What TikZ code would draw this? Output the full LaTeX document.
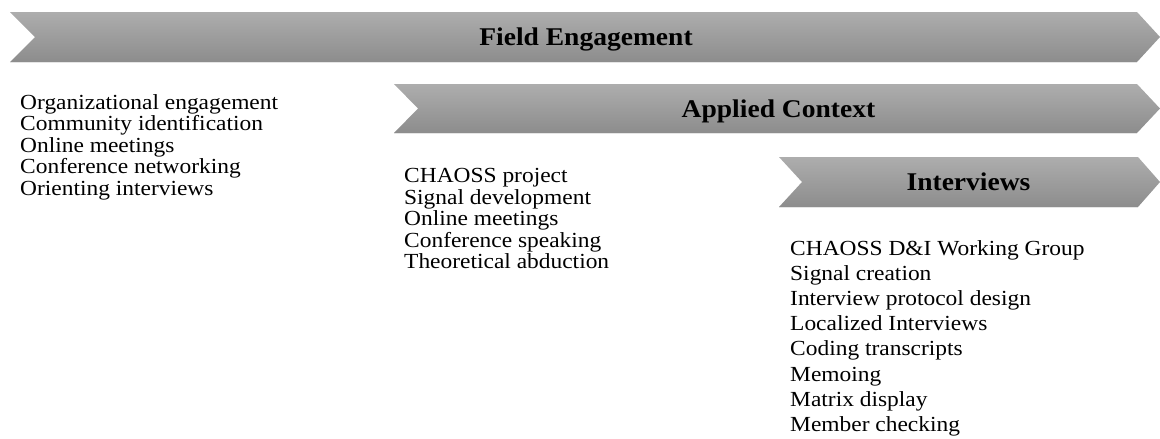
\documentclass[tikz,border=0pt]{standalone}
\usepackage{fontspec}
\setmainfont{Liberation Serif}[FakeStretch=1.09]
\newfontfamily\titlefont{Liberation Serif}[FakeStretch=1.08]
\begin{document}
\begin{tikzpicture}[x=1pt,y=-1pt,
  band/.style={top color=black!32,bottom color=black!45,draw=none},
  edge/.style={draw=black!10,line width=1pt},
  title/.style={font=\titlefont\fontsize{25.5}{28}\selectfont\bfseries,inner sep=0pt,anchor=base},
  item/.style={font=\fontsize{21.5}{24}\selectfont,anchor=base west,inner sep=0pt}]
\useasboundingbox (0,0) rectangle (1160,439);
% Field Engagement band
\path[band] (10,12) -- (1137,12) -- (1160,37) -- (1137,62) -- (10,62) -- (35,37) -- cycle;
\draw[edge] (10,62.5) -- (1137,62.5);
\node[title] (t1) at (586,45.5) {Field Engagement};
% Applied Context band
\path[band] (394,84) -- (1137,84) -- (1160,108.5) -- (1137,133) -- (394,133) -- (418,108.5) -- cycle;
\draw[edge] (394,133.5) -- (1137,133.5);
\node[title] (t2) at (778.5,117.5) {Applied Context};
% Interviews band
\path[band] (779,157) -- (1138,157) -- (1160,182) -- (1138,207) -- (779,207) -- (802,182) -- cycle;
\draw[edge] (779,207.5) -- (1138,207.5);
\node[title] (t3) at (968.5,190.5) {Interviews};
% lists
\foreach \t [count=\i from 0] in {Organizational engagement,Community identification,Online meetings,Conference networking,Orienting interviews}
  \node[item] (a\i) at (20,{109+21.5*\i}) {\t};
\foreach \t [count=\i from 0] in {CHAOSS project,Signal development,Online meetings,Conference speaking,Theoretical abduction}
  \node[item] (b\i) at (404,{182.5+21.5*\i}) {\t};
\foreach \t [count=\i from 0] in {CHAOSS D\&I Working Group,Signal creation,Interview protocol design,Localized Interviews,Coding transcripts,Memoing,Matrix display,Member checking}
  \node[item] (c\i) at (790,{255+25.2*\i}) {\t};
\end{tikzpicture}
\end{document}
